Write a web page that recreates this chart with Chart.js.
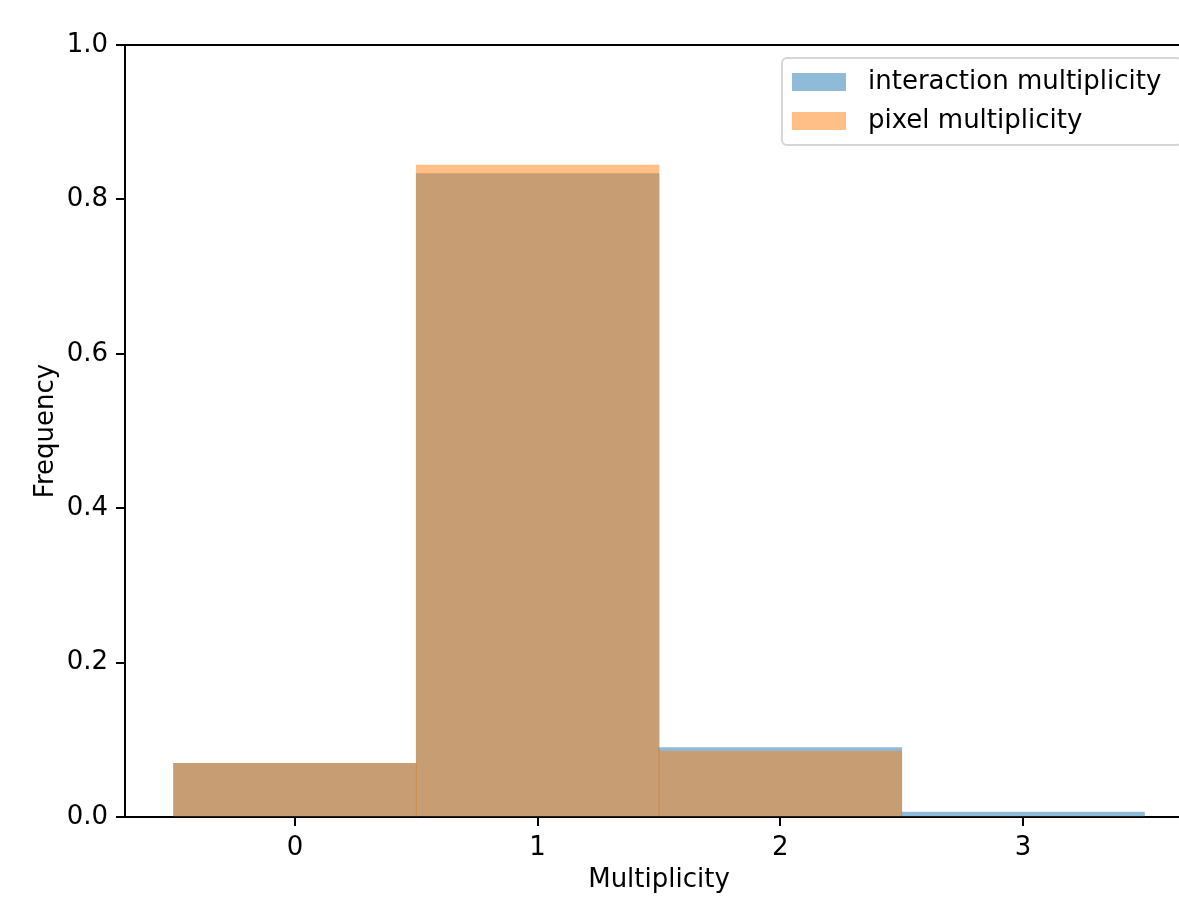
<!DOCTYPE html>
<html>
<head>
<meta charset="utf-8">
<script src="https://cdn.jsdelivr.net/npm/chart.js@4/dist/chart.umd.min.js"></script>
<style>
  html, body { margin: 0; padding: 0; background: #fff; overflow: hidden; }
  #wrap { position: relative; width: 1200px; height: 909px; }
</style>
</head>
<body>
<div id="wrap"><canvas id="hist"></canvas></div>
<script>
// Histogram bins (bin centres) and normalised frequencies per bin
const multiplicity = [0, 1, 2, 3];
const interactionFreq = [0.0696, 0.8333, 0.0898, 0.0065];
const pixelFreq = [0.0696, 0.8446, 0.0855, 0.0];
const yTicks = [0, 0.2, 0.4, 0.6, 0.8, 1.0];
const seriesLabels = ['interaction multiplicity', 'pixel multiplicity'];

const FONT = 'DejaVu Sans';
const FS = 26;
const blue = 'rgba(31,119,180,0.5)';
const orange = 'rgba(255,127,14,0.5)';

Chart.defaults.color = '#000';
Chart.defaults.font.family = FONT;
Chart.defaults.font.size = FS;

// Top spine and a framed legend in the upper right of the axes
const framePlugin = {
  id: 'frame',
  afterDraw(chart) {
    const ctx = chart.ctx;
    const a = chart.chartArea;
    ctx.save();
    ctx.strokeStyle = '#000';
    ctx.lineWidth = 2;
    ctx.beginPath();
    ctx.moveTo(a.left - 1, a.top);
    ctx.lineTo(a.right + 1, a.top);
    ctx.moveTo(a.right, a.top);
    ctx.lineTo(a.right, a.bottom);
    ctx.stroke();

    // legend box
    const bw = 400, bh = 87;
    const bx = a.right - 11 - bw, by = a.top + 13;
    ctx.beginPath();
    ctx.roundRect(bx, by, bw, bh, 5);
    ctx.fillStyle = 'rgba(255,255,255,0.8)';
    ctx.fill();
    ctx.strokeStyle = 'rgba(204,204,204,0.8)';
    ctx.lineWidth = 2;
    ctx.stroke();

    ctx.font = FS + 'px "' + FONT + '"';
    ctx.textBaseline = 'middle';
    ctx.textAlign = 'left';
    chart.data.datasets.forEach((ds, i) => {
      const py = by + 15 + i * 39;
      ctx.fillStyle = ds.backgroundColor;
      ctx.fillRect(bx + 10, py, 54, 18);
      ctx.fillStyle = '#000';
      ctx.fillText(ds.label, bx + 86, py + 9);
    });
    ctx.restore();
  }
};

new Chart(document.getElementById('hist'), {
  type: 'bar',
  data: {
    datasets: [
      {
        label: seriesLabels[0],
        data: multiplicity.map((m, i) => ({ x: m, y: interactionFreq[i] })),
        backgroundColor: blue,
        borderWidth: 0,
        order: 1
      },
      {
        label: seriesLabels[1],
        data: multiplicity.map((m, i) => ({ x: m, y: pixelFreq[i] })),
        backgroundColor: orange,
        borderWidth: 0,
        order: 0
      }
    ]
  },
  options: {
    responsive: true,
    maintainAspectRatio: false,
    animation: false,
    devicePixelRatio: 1,
    grouped: false,
    barPercentage: 1,
    categoryPercentage: 1,
    layout: { padding: { left: 0, top: 45, right: 7, bottom: 0 } },
    plugins: {
      legend: { display: false },
      tooltip: { enabled: false }
    },
    scales: {
      x: {
        type: 'linear',
        min: -0.7,
        max: 3.7,
        offset: false,
        afterBuildTicks(scale) {
          scale.ticks = multiplicity.map(v => ({ value: v }));
        },
        afterFit(scale) { scale.height = 92; },
        grid: {
          offset: false,
          drawOnChartArea: false,
          drawTicks: true,
          tickLength: 9,
          tickColor: '#000',
          lineWidth: 2
        },
        border: { display: true, color: '#000', width: 2 },
        ticks: {
          padding: 7,
          color: '#000',
          font: { family: FONT, size: FS },
          maxRotation: 0,
          callback: v => String(v)
        },
        title: {
          display: true,
          text: 'Multiplicity',
          color: '#000',
          font: { family: FONT, size: FS },
          padding: { top: 0, bottom: 13 }
        }
      },
      y: {
        min: 0,
        max: 1,
        afterBuildTicks(scale) {
          scale.ticks = yTicks.map(v => ({ value: v }));
        },
        afterFit(scale) { scale.width = 125; },
        grid: {
          drawOnChartArea: false,
          drawTicks: true,
          tickLength: 9,
          tickColor: '#000',
          lineWidth: 2
        },
        border: { display: true, color: '#000', width: 2 },
        ticks: {
          padding: 8,
          color: '#000',
          font: { family: FONT, size: FS },
          callback: v => Number(v).toFixed(1)
        },
        title: {
          display: true,
          text: 'Frequency',
          color: '#000',
          font: { family: FONT, size: FS },
          padding: { top: 31, bottom: 0 }
        }
      }
    }
  },
  plugins: [framePlugin]
});
</script>
</body>
</html>
